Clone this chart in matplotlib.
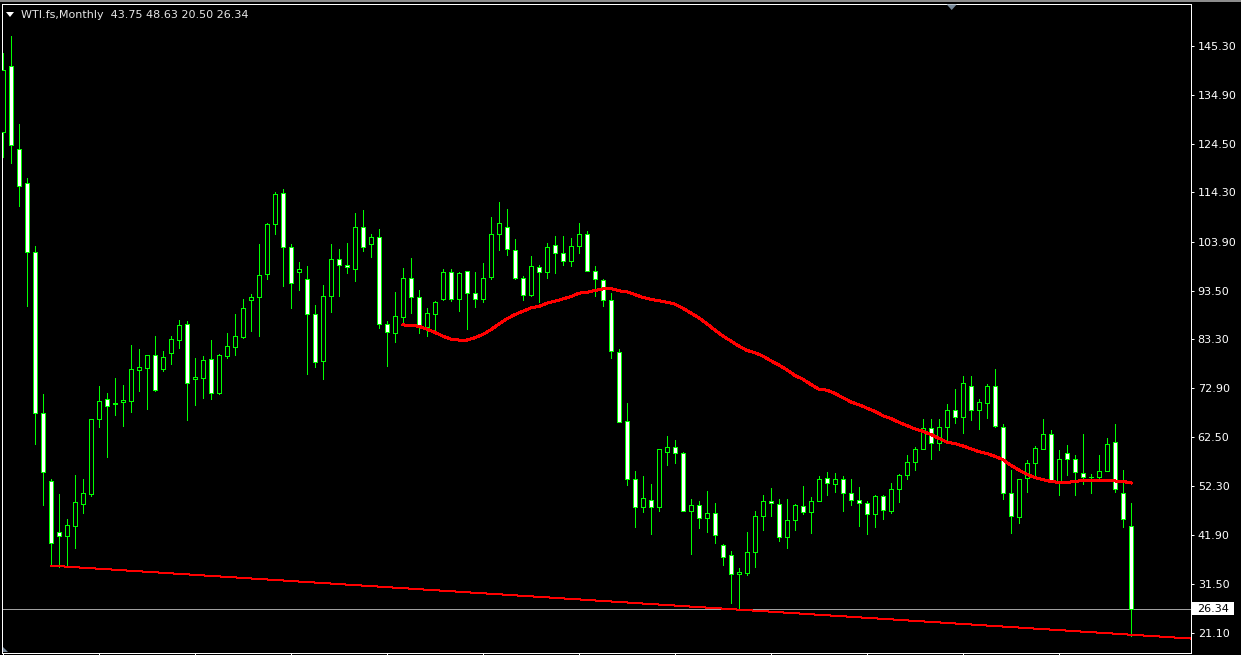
import numpy as np
import matplotlib.pyplot as plt
from matplotlib.patches import Rectangle, Polygon

W, H = 1241, 655
DPI = 100
PX = 72.0 / DPI  # one pixel in points

# monthly bars, Jun 2008 .. Mar 2020
opens = [127.1, 141.1, 123.4, 116.4, 101.8, 67.6, 53.2, 42.6, 41.7, 43.8,
         48.5, 50.6, 66.3, 70.6, 69.5, 70.0, 70.3, 76.8, 77.1, 79.9,
         76.9, 80.3, 83.2, 86.4, 74.8, 75.1, 79.0, 71.8, 79.8, 81.7,
         83.8, 91.5, 92.1, 97.0, 107.7, 114.1, 102.8, 97.4, 96.1, 88.7,
         78.7, 92.4, 100.3, 98.9, 98.2, 106.9, 103.5, 104.8, 86.4, 84.6,
         88.0, 96.3, 92.1, 85.9, 88.7, 91.7, 97.4, 91.7, 97.6, 93.0,
         91.7, 96.4, 105.5, 107.1, 102.2, 96.3, 92.7, 98.5, 97.4, 103.1,
         101.4, 99.8, 102.9, 105.5, 97.6, 95.7, 91.5, 80.6, 66.0, 53.8,
         47.7, 49.3, 47.7, 59.4, 60.4, 59.2, 46.9, 48.2, 45.4, 46.5,
         39.7, 37.7, 33.7, 33.9, 38.2, 46.0, 49.1, 48.4, 41.4, 45.0,
         48.0, 46.8, 49.0, 54.0, 52.6, 53.8, 50.8, 49.3, 48.7, 46.4,
         50.2, 47.0, 51.6, 54.5, 57.3, 60.1, 64.6, 61.4, 64.7, 68.4,
         66.9, 73.4, 68.4, 69.8, 73.3, 64.8, 50.7, 45.6, 54.0, 57.2,
         60.0, 63.3, 53.3, 59.2, 57.9, 55.0, 54.1, 54.1, 55.4, 61.5,
         50.7, 43.75]
highs = [143.8, 147.35, 128.8, 117.4, 103.0, 71.7, 53.7, 50.6, 45.3, 54.6,
         53.7, 66.4, 73.4, 71.9, 75.1, 73.6, 82.05, 81.2, 80.0, 84.0,
         80.8, 84.0, 87.4, 87.2, 79.4, 79.7, 83.1, 80.2, 84.6, 88.6,
         91.8, 92.9, 103.5, 107.9, 114.4, 115.0, 103.5, 99.7, 98.7, 90.5,
         94.7, 103.3, 102.4, 103.6, 109.9, 110.5, 105.5, 106.5, 87.1, 93.3,
         98.3, 100.4, 93.7, 89.8, 91.4, 98.2, 98.05, 97.5, 97.6, 97.5,
         99.3, 109.1, 112.2, 110.7, 104.5, 96.6, 100.9, 98.9, 103.7, 105.2,
         105.1, 104.6, 107.9, 106.1, 98.7, 95.9, 93.0, 81.1, 69.7, 55.4,
         54.3, 52.6, 60.0, 62.8, 62.0, 59.4, 49.5, 49.0, 51.2, 48.6,
         40.0, 38.4, 34.8, 42.6, 46.9, 50.4, 51.8, 49.5, 49.5, 48.5,
         52.2, 49.9, 54.4, 55.1, 54.9, 54.3, 53.7, 52.0, 49.1, 50.4,
         50.4, 52.9, 54.7, 58.9, 60.4, 66.5, 66.3, 66.5, 69.5, 72.8,
         75.4, 75.4, 70.6, 73.7, 76.9, 65.3, 55.6, 53.8, 57.7, 60.6,
         66.5, 64.1, 59.8, 60.9, 58.8, 63.3, 54.8, 58.8, 62.4, 65.4,
         55.6, 48.63]
lows = [121.8, 120.5, 111.5, 90.4, 61.2, 48.3, 35.4, 35.2, 35.6, 39.2,
        46.6, 50.1, 64.7, 58.3, 67.3, 64.9, 67.95, 72.4, 68.6, 72.3,
        76.5, 78.0, 81.4, 66.1, 69.3, 70.8, 70.7, 71.7, 79.2, 80.0,
        83.6, 85.1, 83.9, 96.1, 105.5, 94.6, 89.9, 93.6, 76.0, 77.5,
        74.9, 89.0, 92.4, 97.3, 95.5, 102.0, 100.7, 85.7, 77.7, 82.6,
        86.6, 88.8, 84.6, 84.0, 85.3, 91.5, 91.3, 89.2, 85.5, 90.0,
        91.2, 96.1, 102.1, 101.0, 96.1, 91.5, 92.5, 91.2, 96.2, 97.3,
        98.9, 98.8, 101.6, 97.7, 92.5, 90.3, 79.4, 65.8, 52.5, 43.6,
        46.8, 42.1, 47.0, 56.6, 57.1, 46.9, 37.8, 43.3, 42.6, 40.2,
        35.5, 27.6, 26.1, 33.4, 35.2, 43.0, 46.0, 40.7, 39.2, 43.0,
        46.4, 42.3, 49.0, 50.4, 50.9, 47.0, 48.2, 43.7, 42.1, 43.5,
        45.3, 46.5, 48.9, 53.8, 55.6, 60.0, 58.0, 59.9, 61.5, 65.6,
        63.5, 66.2, 64.2, 66.7, 64.8, 49.5, 42.3, 44.4, 51.0, 54.4,
        60.0, 53.0, 50.4, 54.6, 50.4, 52.7, 50.8, 53.8, 55.4, 50.9,
        43.6, 20.50]
closes = [140.1, 124.25, 115.6, 101.8, 67.6, 55.2, 40.1, 41.6, 44.1, 48.8,
          50.7, 66.4, 70.3, 69.2, 69.8, 70.5, 76.9, 77.3, 79.9, 72.5,
          79.5, 83.3, 86.3, 74.0, 75.2, 78.8, 71.8, 79.9, 81.8, 83.9,
          89.8, 92.2, 96.9, 107.7, 113.9, 102.8, 95.2, 98.05, 88.7, 78.5,
          92.5, 100.3, 98.9, 98.5, 106.9, 102.8, 104.8, 86.4, 84.9, 88.1,
          96.3, 92.1, 85.9, 88.9, 91.2, 97.4, 91.7, 97.2, 93.0, 91.7,
          96.3, 105.5, 107.8, 102.3, 96.3, 92.7, 98.7, 97.4, 102.7, 101.4,
          99.8, 103.0, 105.5, 97.7, 95.9, 91.5, 80.8, 65.8, 53.8, 47.9,
          49.6, 47.7, 60.0, 60.4, 59.2, 46.9, 48.2, 45.4, 46.6, 41.9,
          37.2, 33.7, 34.0, 38.2, 46.0, 49.1, 48.6, 41.4, 45.0, 48.2,
          46.8, 49.0, 53.8, 52.8, 53.8, 50.8, 49.3, 48.7, 46.4, 50.2,
          47.2, 51.6, 54.5, 57.4, 60.0, 64.6, 61.4, 64.8, 68.4, 66.9,
          74.1, 68.4, 69.9, 73.4, 64.9, 50.7, 45.9, 53.8, 57.2, 60.2,
          63.3, 53.3, 58.0, 57.9, 55.2, 54.1, 54.2, 55.4, 61.1, 51.6,
          45.2, 26.34]

# red moving average, as drawn from bar 50 on
ma_start = 50
ma_values = [86.3, 86.2, 86.0, 85.4, 84.7, 83.9, 83.3, 83.1, 83.1, 83.6,
             84.3, 85.3, 86.5, 87.6, 88.5, 89.2, 89.9, 90.2, 90.9, 91.3,
             91.8, 92.3, 93.0, 93.2, 93.6, 93.9, 94.0, 93.5, 93.3, 92.7,
             92.1, 91.7, 91.4, 91.1, 90.7, 89.8, 88.8, 87.8, 86.5, 85.2,
             83.9, 82.9, 81.8, 80.9, 80.4, 79.7, 78.7, 77.8, 76.8, 75.6,
             74.8, 73.7, 72.7, 72.5, 71.8, 70.9, 70.0, 69.4, 68.7, 68.0,
             67.1, 66.5, 65.7, 65.0, 64.3, 63.8, 63.1, 62.3, 61.5, 61.2,
             60.7, 60.1, 59.5, 59.1, 58.5, 57.8, 56.6, 55.6, 54.7, 54.0,
             53.6, 53.2, 53.0, 53.0, 53.2, 53.4, 53.4, 53.4, 53.4, 53.3,
             53.2, 52.9]

# trend line through two lows (bar index, price), drawn as a ray
trend_a = (6, 35.4)
trend_b = (92, 26.1)

bid = 26.34
y_ticks = [145.30, 134.90, 124.50, 114.30, 103.90, 93.50, 83.30,
           72.90, 62.50, 52.30, 41.90, 31.50, 21.10]
title = "WTI.fs,Monthly  43.75 48.63 20.50 26.34"

GREEN = "#00ff00"
n = len(closes)
x_ticks = list(range(0, n, 12))

fig = plt.figure(figsize=(W / DPI, H / DPI), dpi=DPI, facecolor="black")
# frame: left 2.5px, right 1190.7px, top 4.3px, bottom 652.5px
ax = fig.add_axes([2.5 / W, (H - 652.5) / H, (1190.7 - 2.5) / W, (652.5 - 4.3) / H])
ax.set_facecolor("black")
ax.set_xlim(-0.0625, 148.46)
ax.set_ylim(17.04, 154.08)

xs = np.arange(n)
ax.vlines(xs, lows, highs, color=GREEN, lw=PX, antialiased=False, zorder=2)
for i in range(n):
    o, c = opens[i], closes[i]
    lo, hi = min(o, c), max(o, c)
    face = "white" if c < o else "black"
    ax.add_patch(Rectangle((i - 0.25, lo), 0.5, max(hi - lo, 0.05),
                           facecolor=face, edgecolor=GREEN, lw=PX,
                           antialiased=False, zorder=3))

ax.plot(np.arange(ma_start, ma_start + len(ma_values)), ma_values,
        color="red", lw=2 * PX, antialiased=False, zorder=4)

slope = (trend_b[1] - trend_a[1]) / (trend_b[0] - trend_a[0])
x_end = ax.get_xlim()[1]
ax.plot([trend_a[0], x_end], [trend_a[1], trend_a[1] + slope * (x_end - trend_a[0])],
        color="red", lw=PX, antialiased=False, zorder=4)

ax.axhline(bid, color="#a0a0a0", lw=PX, antialiased=False, zorder=1)

for s in ax.spines.values():
    s.set_color("white")
    s.set_linewidth(PX)

ax.yaxis.tick_right()
ax.set_yticks(y_ticks)
ax.set_yticklabels([f"{v:.2f}" for v in y_ticks])
ax.tick_params(axis="y", colors="white", labelcolor="white", length=3 * PX,
               width=PX, pad=4 * PX, labelsize=8, direction="out")
ax.set_xticks(x_ticks)
ax.tick_params(axis="x", colors="white", length=3 * PX, width=PX,
               labelbottom=False, direction="out")

# current price label
trans = ax.get_yaxis_transform()
box_w = 42 / (1190.7 - 2.5)
box_h = 13.3 / 4.73
ax.add_patch(Rectangle((1.0013, bid - box_h / 2), box_w, box_h, transform=trans,
                       facecolor="white", edgecolor="none", clip_on=False, zorder=5))
ax.text(1.0051, bid, f"{bid:.2f}", transform=trans, color="black", fontsize=8,
        va="center", ha="left", clip_on=False, zorder=6)

# header text and small markers
fig.text(21 / W, 1 - 15 / H, title, color="#e6e6e6", fontsize=8, va="center", ha="left")
fig.add_artist(Polygon([(6 / W, 1 - 12 / H), (14 / W, 1 - 12 / H), (10 / W, 1 - 17 / H)],
                       closed=True, transform=fig.transFigure, facecolor="white",
                       edgecolor="none"))
fig.add_artist(Polygon([(946.7 / W, 1 - 4.5 / H), (956.7 / W, 1 - 4.5 / H), (951.7 / W, 1 - 10 / H)],
                       closed=True, transform=fig.transFigure, facecolor="#778899",
                       edgecolor="none"))
fig.add_artist(Polygon([(3 / W, 1 - 647 / H), (3 / W, 1 - 652 / H), (8 / W, 1 - 652 / H)],
                       closed=True, transform=fig.transFigure, facecolor="#778899",
                       edgecolor="none"))
fig.add_artist(Rectangle((0, 1 - 2 / H), 1, 2 / H, transform=fig.transFigure,
                         facecolor="#8c8c8c", edgecolor="none"))

fig.savefig("out.png", dpi=DPI, facecolor="black")
